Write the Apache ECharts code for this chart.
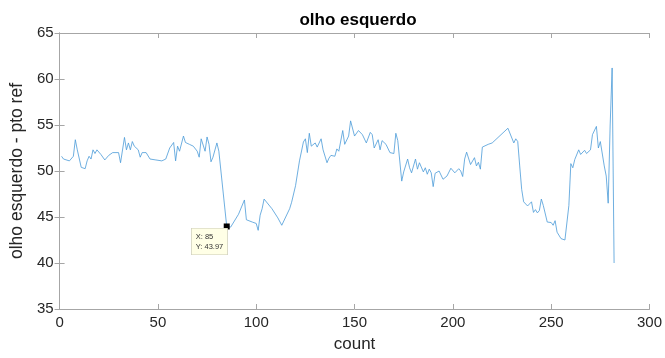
<!DOCTYPE html>
<html>
<head>
<meta charset="utf-8">
<script src="https://cdn.jsdelivr.net/npm/echarts@6/dist/echarts.min.js"></script>
<style>html,body{margin:0;padding:0;background:#fff}#c{width:665px;height:358px}</style>
</head>
<body>
<div id="c"></div>
<script>
const titleText = 'olho esquerdo';
const xName = 'count';
const yName = 'olho esquerdo - pto ref';
const xTicks = [0, 50, 100, 150, 200, 250, 300];
const yTicks = [35, 40, 45, 50, 55, 60, 65];
const countX = [1,2,3,5,6,7,8,9,11,13,14,15,16,17,18,19,20,21,23,25,27,30,31,32,33,34,35,36,37,38,39,40,41,42,44,46,49,52,54,56,58,59,60,61,63,64,66,68,70,71,72,73,74,75,76,77,78,79,80,81,85,87,88,91,94,95,98,100,101,102,103,104,108,111,113,117,118,120,122,124,125,126,127,128,130,131,132,133,134,136,137,138,140,141,142,144,145,147,148,150,152,154,156,158,159,160,162,163,164,166,167,168,169,170,171,172,174,175,177,178,179,181,182,183,185,186,187,188,189,190,191,193,194,195,197,199,200,201,203,204,205,206,207,209,210,211,212,213,214,215,218,220,221,228,231,232,233,234,235,236,237,238,239,240,241,242,243,244,245,246,248,250,251,252,253,255,257,258,259,260,261,262,263,264,265,266,267,268,269,270,271,273,274,275,276,277,278,279,280,281,282];
const eyeValues = [51.6,51.3,51.2,51.1,51.1,51.6,53.4,52.3,50.4,50.25,51.1,51.6,51.3,52.3,51.9,52.3,52.1,51.8,51.2,51.7,52.0,52.0,50.9,50.8,53.65,52.3,53.05,52.3,53.2,52.7,52.9,52.3,51.5,52.0,52.0,51.3,51.2,51.1,51.3,52.5,53.1,51.1,52.7,52.15,53.8,53.1,52.9,52.7,52.15,51.5,53.5,53.7,52.15,53.7,52.9,51.0,51.5,51.4,53.05,52.15,43.97,43.9,44.0,45.3,46.85,44.7,44.45,44.3,43.55,45.2,45.9,46.95,45.9,44.9,44.1,45.9,46.6,48.4,51.1,53.15,53.5,52.0,54.1,52.7,53.05,52.6,52.7,53.5,52.3,50.9,51.4,51.7,51.6,52.4,52.15,54.4,52.9,53.8,55.45,53.8,54.4,53.95,53.05,54.2,53.95,52.5,53.4,52.3,53.3,52.9,53.0,52.0,51.9,51.9,54.1,53.3,48.9,49.9,51.3,50.35,49.8,51.3,50.2,50.9,49.9,50.35,49.65,50.2,49.8,48.3,49.75,50.0,49.9,49.1,49.45,50.3,50.45,49.8,50.25,50.0,49.4,51.3,52.05,50.7,50.7,51.45,50.55,50.95,50.2,52.6,52.9,53.05,53.0,54.65,53.05,53.5,53.2,50.55,48.0,46.65,46.6,46.2,46.25,46.65,45.5,45.8,45.45,45.7,46.95,46.25,44.45,44.4,44.1,44.6,43.35,42.65,42.5,42.65,46.25,50.8,50.35,51.25,51.3,52.3,51.8,51.8,52.25,51.9,51.9,52.3,53.95,54.85,52.5,53.2,53.1,50.55,49.45,46.5,55.0,61.2,40.0];
const tipX = 85;
const tipY = 43.97;

const lineData = countX.map((x, i) => [x, eyeValues[i]]);
const axisCol = '#a6a6a6';
const txtCol = '#262626';
const font = 'Liberation Sans, Arial, Helvetica, sans-serif';

const chart = echarts.init(document.getElementById('c'), null, {renderer: 'canvas'});
const baseX = {
  type: 'value', min: xTicks[0], max: xTicks[xTicks.length - 1], interval: xTicks[1] - xTicks[0],
  axisLine: {show: true, lineStyle: {color: axisCol, width: 1}},
  axisTick: {show: true, inside: true, length: 5, lineStyle: {color: axisCol}},
  splitLine: {show: false}
};
const baseY = {
  type: 'value', min: yTicks[0], max: yTicks[yTicks.length - 1], interval: yTicks[1] - yTicks[0],
  axisLine: {show: true, lineStyle: {color: axisCol, width: 1}},
  axisTick: {show: true, inside: true, length: 5, lineStyle: {color: axisCol}},
  splitLine: {show: false}
};
chart.setOption({
  animation: false,
  backgroundColor: '#ffffff',
  title: {
    text: titleText, left: 353, top: 7, textAlign: 'center',
    textStyle: {fontFamily: font, fontSize: 17, fontWeight: 'bold', color: '#000'}
  },
  grid: {left: 55, right: 14, top: 33, bottom: 45, containLabel: false},
  xAxis: [
    Object.assign({}, baseX, {
      position: 'bottom',
      name: xName, nameLocation: 'middle', nameGap: 27,
      nameTextStyle: {fontFamily: font, fontSize: 17, color: txtCol},
      axisLabel: {show: true, margin: 6, fontFamily: font, fontSize: 15, color: txtCol}
    }),
    Object.assign({}, baseX, {position: 'top', axisLabel: {show: false}})
  ],
  yAxis: [
    Object.assign({}, baseY, {
      position: 'left',
      name: yName, nameLocation: 'middle', nameGap: 22,
      nameTextStyle: {fontFamily: font, fontSize: 17.5, color: txtCol},
      axisLabel: {show: true, margin: 6, fontFamily: font, fontSize: 15, color: txtCol}
    }),
    Object.assign({}, baseY, {position: 'right', axisLabel: {show: false}})
  ],
  series: [{
    type: 'line',
    data: lineData,
    showSymbol: false,
    symbol: 'none',
    lineStyle: {color: '#4a9ad8', width: 0.8},
    markPoint: {
      symbol: 'rect', symbolSize: 6,
      itemStyle: {color: '#000'},
      data: [{coord: [tipX, tipY]}],
      label: {
        show: true,
        position: [-32, 5],
        align: 'left', verticalAlign: 'top',
        formatter: () => 'X: ' + tipX + '\nY: ' + tipY.toFixed(2),
        backgroundColor: '#ffffe6',
        borderColor: '#c8c8b4', borderWidth: 0.6,
        padding: [3, 4, 3, 4],
        fontFamily: font, fontSize: 7.5, lineHeight: 10, color: '#333'
      }
    }
  }]
});
</script>
</body>
</html>
